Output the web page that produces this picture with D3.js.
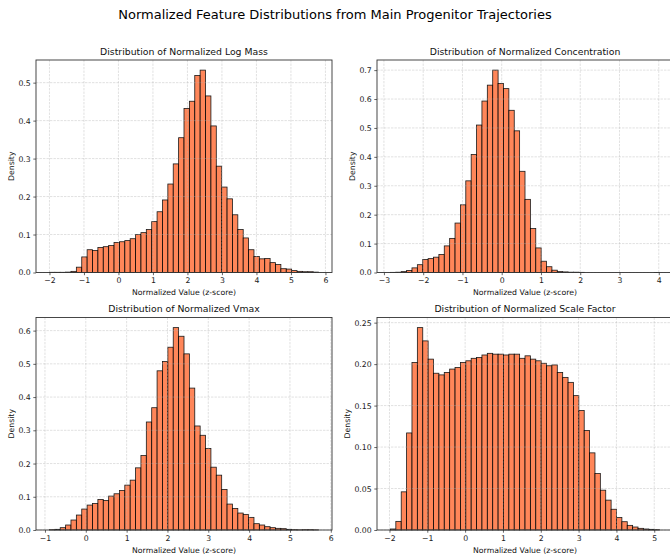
<!DOCTYPE html>
<html>
<head>
<meta charset="utf-8">
<script src="https://cdn.jsdelivr.net/npm/d3@7"></script>
<style>
  body { margin: 0; background: #fff; }
  svg { display: block; font-family: "DejaVu Sans", sans-serif; }
</style>
</head>
<body>
<svg id="chart" width="670" height="557"></svg>
<script>
// histogram densities, 50 bins per panel
const logMassDensity = [0.0005, 0.0005, 0.0005, 0.001, 0.003, 0.014, 0.041, 0.060, 0.058, 0.066,
  0.068, 0.071, 0.079, 0.081, 0.084, 0.089, 0.100, 0.105, 0.113, 0.134,
  0.160, 0.191, 0.233, 0.286, 0.355, 0.432, 0.451, 0.519, 0.533, 0.465,
  0.386, 0.280, 0.225, 0.194, 0.152, 0.113, 0.091, 0.060, 0.042, 0.036,
  0.037, 0.026, 0.021, 0.010, 0.009, 0.005, 0.003, 0.002, 0.002, 0.001]
const logMassRange = [-2.0, 5.8]

const concDensity = [0.0005, 0.001, 0.003, 0.007, 0.016, 0.027, 0.045, 0.048, 0.053, 0.062,
  0.092, 0.118, 0.171, 0.234, 0.317, 0.408, 0.510, 0.593, 0.648, 0.700,
  0.654, 0.636, 0.561, 0.490, 0.350, 0.253, 0.152, 0.085, 0.039, 0.020,
  0.008, 0.003, 0.002, 0.001, 0.001, 0.0005, 0, 0, 0, 0,
  0, 0, 0, 0, 0, 0, 0, 0, 0, 0.0001]
const concRange = [-2.834, 4.02]

const vmaxDensity = [0.001, 0.002, 0.007, 0.015, 0.030, 0.045, 0.063, 0.075, 0.080, 0.092,
  0.089, 0.102, 0.109, 0.119, 0.135, 0.150, 0.187, 0.224, 0.325, 0.368,
  0.479, 0.507, 0.550, 0.609, 0.583, 0.530, 0.427, 0.313, 0.285, 0.245,
  0.189, 0.165, 0.122, 0.078, 0.065, 0.051, 0.047, 0.038, 0.019, 0.015,
  0.010, 0.007, 0.005, 0.004, 0.002, 0.001, 0.0005, 0.001, 0.001, 0.0005]
const vmaxRange = [-0.89, 5.70]

const scaleDensity = [0.0012, 0.0104, 0.046, 0.117, 0.202, 0.244, 0.228, 0.206, 0.189, 0.187,
  0.190, 0.194, 0.196, 0.202, 0.204, 0.207, 0.208, 0.211, 0.213, 0.212,
  0.212, 0.211, 0.212, 0.212, 0.207, 0.210, 0.206, 0.204, 0.201, 0.198,
  0.199, 0.190, 0.184, 0.178, 0.162, 0.144, 0.120, 0.093, 0.068, 0.048,
  0.036, 0.025, 0.015, 0.010, 0.0056, 0.0036, 0.002, 0.0012, 0.0008, 0.0004]
const scaleRange = [-1.974, 5.14]

// tick labels
const logMassXTicks = [-2, -1, 0, 1, 2, 3, 4, 5, 6]
const logMassYTicks = [0, 0.1, 0.2, 0.3, 0.4, 0.5]
const concXTicks = [-3, -2, -1, 0, 1, 2, 3, 4]
const concYTicks = [0, 0.1, 0.2, 0.3, 0.4, 0.5, 0.6, 0.7]
const vmaxXTicks = [-1, 0, 1, 2, 3, 4, 5, 6]
const vmaxYTicks = [0, 0.1, 0.2, 0.3, 0.4, 0.5, 0.6]
const scaleXTicks = [-2, -1, 0, 1, 2, 3, 4, 5]
const scaleYTicks = [0, 0.05, 0.10, 0.15, 0.20, 0.25]

const mainTitle = "Normalized Feature Distributions from Main Progenitor Trajectories"
const panelTitles = ["Distribution of Normalized Log Mass", "Distribution of Normalized Concentration",
  "Distribution of Normalized Vmax", "Distribution of Normalized Scale Factor"]
const xLabel = "Normalized Value (z-score)"
const yLabel = "Density"

const W = 296, H = 212.5
const barColor = "#ff7a48"

const svg = d3.select("#chart")
svg.append("rect").attr("width", 670).attr("height", 557).attr("fill", "#fff")

svg.append("text")
  .attr("x", 335).attr("y", 14)
  .attr("text-anchor", "middle").attr("dominant-baseline", "central")
  .style("font-size", "13px").attr("fill", "#000")
  .text(mainTitle)

const panels = [
  {left: 36, top: 60, density: logMassDensity, range: logMassRange, xTicks: logMassXTicks, yTicks: logMassYTicks, yFmt: ".1f", title: panelTitles[0]},
  {left: 377, top: 60, density: concDensity, range: concRange, xTicks: concXTicks, yTicks: concYTicks, yFmt: ".1f", title: panelTitles[1]},
  {left: 36, top: 317.5, density: vmaxDensity, range: vmaxRange, xTicks: vmaxXTicks, yTicks: vmaxYTicks, yFmt: ".1f", title: panelTitles[2]},
  {left: 377, top: 317.5, density: scaleDensity, range: scaleRange, xTicks: scaleXTicks, yTicks: scaleYTicks, yFmt: ".2f", title: panelTitles[3]}
]

panels.forEach(drawPanel)

function drawPanel(p) {
  const g = svg.append("g").attr("transform", `translate(${p.left},${p.top})`)

  const n = p.density.length
  const step = (p.range[1] - p.range[0]) / n
  const edges = d3.range(n + 1).map(i => p.range[0] + i * step)
  const pad = (p.range[1] - p.range[0]) * 0.05

  const x = d3.scaleLinear().domain([p.range[0] - pad, p.range[1] + pad]).range([0, W])
  const y = d3.scaleLinear().domain([0, d3.max(p.density) * 1.05]).range([H, 0])

  // bars
  g.append("g").selectAll("rect")
    .data(p.density)
    .join("rect")
    .attr("x", (d, i) => x(edges[i]))
    .attr("width", (d, i) => x(edges[i + 1]) - x(edges[i]))
    .attr("y", d => y(d))
    .attr("height", d => H - y(d))
    .attr("fill", barColor)
    .attr("stroke", "#000")
    .attr("stroke-width", 0.8)
    .style("opacity", 0.9)

  // dashed grid drawn over the bars like matplotlib does
  const grid = g.append("g")
    .attr("stroke", "#b0b0b0").attr("stroke-opacity", 0.55)
    .attr("stroke-width", 0.7).attr("stroke-dasharray", "2.4,1.1")
  grid.selectAll(".gx").data(p.xTicks).join("line")
    .attr("x1", d => x(d)).attr("x2", d => x(d))
    .attr("y1", 0).attr("y2", H)
  grid.selectAll(".gy").data(p.yTicks).join("line")
    .attr("x1", 0).attr("x2", W)
    .attr("y1", d => y(d)).attr("y2", d => y(d))

  const xAxis = g.append("g")
    .attr("transform", `translate(0,${H})`)
    .call(d3.axisBottom(x).tickValues(p.xTicks).tickFormat(d3.format("d"))
      .tickSizeInner(2.7).tickSizeOuter(0).tickPadding(2.6))
  const yAxis = g.append("g")
    .call(d3.axisLeft(y).tickValues(p.yTicks).tickFormat(d3.format(p.yFmt))
      .tickSizeInner(2.7).tickSizeOuter(0).tickPadding(2.6))

  ;[xAxis, yAxis].forEach(a => {
    a.select(".domain").remove()
    a.selectAll("line").attr("stroke", "#222").attr("stroke-width", 0.7)
    a.selectAll("text").style("font-size", "7.75px").attr("fill", "#222")
      .style("font-family", "DejaVu Sans")
  })

  // frame
  g.append("rect")
    .attr("width", W).attr("height", H)
    .attr("fill", "none").attr("stroke", "#333").attr("stroke-width", 0.9)

  g.append("text")
    .attr("x", W / 2).attr("y", -9)
    .attr("text-anchor", "middle").attr("dominant-baseline", "central")
    .style("font-size", "9.3px").attr("fill", "#111")
    .text(p.title)

  g.append("text")
    .attr("x", W / 2).attr("y", H + 20)
    .attr("text-anchor", "middle").attr("dominant-baseline", "central")
    .style("font-size", "7.75px").attr("fill", "#111")
    .text(xLabel)

  // place the y label left of the widest tick label
  let maxW = 0
  yAxis.selectAll("text").each(function () { maxW = Math.max(maxW, this.getComputedTextLength()) })
  const ly = -(2.7 + 2.6 + maxW + 3.1 + 4)
  g.append("text")
    .attr("transform", `translate(${ly},${H / 2}) rotate(-90)`)
    .attr("text-anchor", "middle").attr("dominant-baseline", "central")
    .style("font-size", "7.75px").attr("fill", "#111")
    .text(yLabel)
}
</script>
</body>
</html>
